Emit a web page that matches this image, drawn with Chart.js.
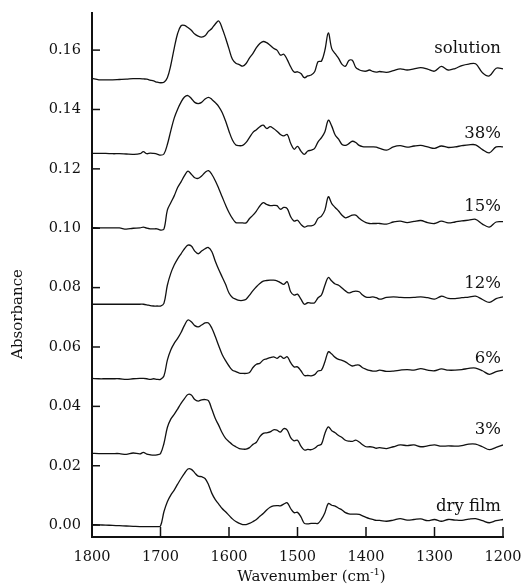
<!DOCTYPE html>
<html><head><meta charset="utf-8">
<script src="https://cdn.jsdelivr.net/npm/chart.js@4.4.1/dist/chart.umd.min.js"></script>
<style>html,body{margin:0;padding:0;background:#fff;}canvas{display:block;}</style>
</head><body>
<canvas id="c" width="523" height="587"></canvas>
<script>
const wavenumbers = [1800,1790,1780,1770,1760,1750,1740,1730,
1725,1720,1715,1710,1705,1700,1695,1690,1685,1680,1675,1670,1665,1660,1655,1650,1645,1640,1635,1630,1625,1620,1615,1610,1605,1600,1595,1590,1585,1580,1575,1570,1565,1560,1555,1550,1545,1540,1535,1530,1525,1520,1515,1510,1505,1500,1495,1490,1485,1480,1475,1470,1465,1460,1455,1450,1445,1440,1435,1430,1425,1420,1415,1410,1405,1400,1395,1390,1385,
1380,1370,1360,1350,1340,1330,1320,1310,1300,1290,1280,1270,1260,1250,1240,1230,1220,1210,1200];

const solution = [.1505,.1500,.1500,.1500,.1501,.1502,.1504,.1504,
.1503,.1502,.1499,.1496,.1492,.1490,.1492,.1507,.1549,.1606,
.1656,.1682,.1683,.1676,.1667,.1654,.1647,.1644,.1648,.1663,
.1673,.1688,.1698,.1674,.1641,.1604,.1569,.1556,.1551,.1546,
.1555,.1574,.1589,.1608,.1622,.1629,.1625,.1616,.1606,.1600,
.1583,.1586,.1568,.1544,.1526,.1527,.1521,.1507,.1513,.1516,
.1527,.1561,.1563,.1600,.1658,.1605,.1588,.1572,.1552,.1546,
.1565,.1566,.1542,.1534,.1530,.1529,.1533,.1528,.1526,
.1528,.1525,.1531,.1537,.1533,.1537,.1541,.1536,.1529,.1545,.1533,.1538,.1548,.1553,.1554,.1524,.1513,.1539,.1537];

const pct38 = [.1252,.1252,.1252,.1251,.1251,.1250,.1249,.1251,
.1258,.1251,.1253,.1252,.1250,.1246,.1250,.1282,.1328,.1371,
.1401,.1425,.1442,.1447,.1437,.1424,.1420,.1424,.1435,.1441,
.1434,.1423,.1410,.1390,.1361,.1327,.1297,.1280,.1278,.1279,
.1289,.1306,.1323,.1332,.1342,.1347,.1336,.1342,.1336,.1327,
.1316,.1311,.1316,.1286,.1266,.1276,.1260,.1249,.1260,.1263,
.1269,.1291,.1305,.1325,.1364,.1344,.1314,.1300,.1282,.1279,
.1285,.1293,.1289,.1279,.1275,.1274,.1274,.1274,.1273,
.1269,.1263,.1274,.1278,.1273,.1277,.1279,.1274,.1269,.1277,.1272,.1274,.1278,.1281,.1281,.1265,.1254,.1274,.1274];

const pct15 = [.1002,.1001,.1001,.1001,.1001,.0997,.1000,.1001,
.1004,.1000,.0998,.0998,.0998,.0994,.0997,.1061,.1086,.1109,
.1137,.1156,.1177,.1192,.1182,.1170,.1168,.1176,.1188,.1194,
.1181,.1160,.1134,.1106,.1078,.1053,.1033,.1019,.1018,.1018,
.1018,.1033,.1044,.1058,.1075,.1086,.1080,.1076,.1077,.1076,
.1064,.1070,.1066,.1039,.1024,.1027,.1013,.1004,.1008,.1008,
.1013,.1033,.1041,.1061,.1106,.1083,.1070,.1058,.1044,.1035,
.1039,.1044,.1044,.1034,.1025,.1019,.1016,.1016,.1016,
.1016,.1014,.1021,.1024,.1019,.1023,.1026,.1019,.1016,.1024,.1018,.1021,.1025,.1027,.1030,.1014,.1004,.1021,.1022];

const pct12 = [.0744,.0744,.0744,.0744,.0744,.0744,.0744,.0744,
.0744,.0742,.0739,.0738,.0738,.0738,.0747,.0808,.0848,.0876,
.0897,.0914,.0931,.0943,.0940,.0923,.0914,.0923,.0931,.0935,
.0921,.0889,.0861,.0836,.0811,.0782,.0767,.0761,.0757,.0757,
.0761,.0775,.0790,.0803,.0814,.0822,.0824,.0825,.0825,.0823,
.0817,.0811,.0820,.0786,.0775,.0778,.0761,.0744,.0749,.0748,
.0749,.0766,.0775,.0808,.0834,.0822,.0812,.0808,.0799,.0789,
.0782,.0786,.0788,.0786,.0775,.0768,.0767,.0769,.0766,
.0761,.0767,.0769,.0767,.0766,.0767,.0769,.0766,.0761,.0771,.0764,.0763,.0766,.0768,.0771,.0760,.0750,.0763,.0769];

const pct6 = [.0494,.0493,.0493,.0493,.0493,.0491,.0493,.0494,
.0494,.0493,.0491,.0493,.0491,.0491,.0502,.0556,.0590,.0612,
.0629,.0649,.0673,.0691,.0685,.0672,.0668,.0674,.0681,.0681,
.0663,.0635,.0604,.0575,.0554,.0536,.0522,.0517,.0512,.0511,
.0511,.0514,.0531,.0542,.0545,.0556,.0560,.0564,.0567,.0562,
.0569,.0562,.0567,.0547,.0533,.0533,.0520,.0504,.0504,.0503,
.0507,.0519,.0522,.0550,.0584,.0576,.0565,.0558,.0555,.0550,
.0542,.0536,.0539,.0539,.0530,.0525,.0521,.0519,.0519,
.0522,.0518,.0519,.0522,.0524,.0522,.0527,.0522,.0520,.0526,.0522,.0522,.0524,.0528,.0529,.0520,.0508,.0517,.0522];

const pct3 = [.0242,.0241,.0241,.0241,.0241,.0238,.0243,.0240,
.0245,.0239,.0237,.0236,.0237,.0241,.0275,.0329,.0357,.0373,
.0391,.0410,.0426,.0440,.0438,.0423,.0418,.0422,.0423,.0419,
.0390,.0359,.0336,.0311,.0292,.0281,.0271,.0264,.0258,.0256,
.0256,.0261,.0272,.0279,.0298,.0309,.0311,.0314,.0321,.0320,
.0313,.0325,.0320,.0295,.0284,.0286,.0266,.0253,.0255,.0254,
.0259,.0268,.0273,.0309,.0331,.0318,.0311,.0302,.0295,.0286,
.0283,.0282,.0286,.0280,.0271,.0264,.0264,.0263,.0259,
.0261,.0258,.0264,.0270,.0268,.0270,.0264,.0267,.0270,.0266,.0267,.0266,.0268,.0273,.0273,.0264,.0254,.0262,.0270];

const dryFilm = [.0002,.0001,.0000,-.0001,-.0002,-.0003,-.0004,-.0005,
-.0005,-.0005,-.0005,-.0005,-.0005,-.0003,.0045,.0079,.0101,.0118,
.0138,.0157,.0174,.0189,.0188,.0176,.0165,.0163,.0157,.0137,
.0107,.0086,.0071,.0056,.0045,.0033,.0021,.0012,.0006,.0002,
.0002,.0006,.0012,.0019,.0030,.0039,.0051,.0060,.0065,.0066,
.0065,.0071,.0075,.0056,.0042,.0043,.0028,.0006,.0004,.0006,
.0006,.0006,.0020,.0042,.0073,.0067,.0064,.0057,.0051,.0042,
.0038,.0037,.0037,.0036,.0031,.0026,.0022,.0019,.0016,
.0016,.0013,.0017,.0022,.0017,.0019,.0021,.0015,.0019,.0013,.0019,.0017,.0016,.0020,.0022,.0015,.0008,.0015,.0019];

const seriesNames = ['solution','38%','15%','12%','6%','3%','dry film'];
const labelAt = [0.1606,0.1320,0.1072,0.0814,0.0559,0.0320,0.0062];
const xTicks = [1800,1700,1600,1500,1400,1300,1200];
const yTicks = [0,0.02,0.04,0.06,0.08,0.10,0.12,0.14,0.16];

const allSeries = [solution,pct38,pct15,pct12,pct6,pct3,dryFilm];
const INK = '#111';
const FONT = '"DejaVu Serif", "Liberation Serif", serif';

const overlay = {
  id: 'overlay',
  afterDraw(chart) {
    const {ctx, chartArea, scales} = chart;
    const x = scales.x, y = scales.y;
    ctx.save();
    ctx.strokeStyle = INK; ctx.lineWidth = 1.5;
    yTicks.forEach(v => {
      const py = y.getPixelForValue(v);
      ctx.beginPath(); ctx.moveTo(chartArea.left, py); ctx.lineTo(chartArea.left + 8, py); ctx.stroke();
    });
    xTicks.forEach(v => {
      const px = x.getPixelForValue(v);
      ctx.beginPath(); ctx.moveTo(px, chartArea.bottom); ctx.lineTo(px, chartArea.bottom - 10); ctx.stroke();
    });
    ctx.fillStyle = INK;
    ctx.font = '16.5px ' + FONT;
    ctx.textAlign = 'right'; ctx.textBaseline = 'middle';
    seriesNames.forEach((n, i) => ctx.fillText(n, chartArea.right - 2, y.getPixelForValue(labelAt[i])));
    // x-axis title with superscript
    ctx.textAlign = 'left'; ctx.textBaseline = 'alphabetic';
    const f1 = '15px ' + FONT, f2 = '10px ' + FONT;
    const a = 'Wavenumber (cm', b = '-1', c = ')';
    ctx.font = f1; const wa = ctx.measureText(a).width, wc = ctx.measureText(c).width;
    ctx.font = f2; const wb = ctx.measureText(b).width;
    const total = wa + wb + wc;
    let tx = 311.5 - total / 2; const ty = 581;
    ctx.font = f1; ctx.fillText(a, tx, ty); tx += wa;
    ctx.font = f2; ctx.fillText(b, tx, ty - 6); tx += wb;
    ctx.font = f1; ctx.fillText(c, tx, ty);
    // y-axis title
    ctx.font = f1; ctx.textAlign = 'center'; ctx.textBaseline = 'middle';
    ctx.translate(18.5, 314); ctx.rotate(-Math.PI / 2);
    ctx.fillText('Absorbance', 0, 0);
    ctx.restore();
  }
};

function noPad(s) { s.paddingTop = 0; s.paddingBottom = 0; s.paddingLeft = 0; s.paddingRight = 0; }

new Chart(document.getElementById('c').getContext('2d'), {
  type: 'line',
  data: {
    datasets: allSeries.map((s, i) => ({
      label: seriesNames[i],
      data: wavenumbers.map((w, j) => ({x: w, y: s[j]})),
      borderColor: INK, borderWidth: 1.3, pointRadius: 0, tension: 0.35, fill: false
    }))
  },
  options: {
    responsive: false, animation: false, devicePixelRatio: 1,
    layout: {padding: {left: 0, right: 20, top: 13, bottom: 0}},
    plugins: {legend: {display: false}, tooltip: {enabled: false}},
    scales: {
      x: {
        type: 'linear', min: 1200, max: 1800, reverse: true,
        afterBuildTicks: s => { s.ticks = xTicks.map(v => ({value: v})); },
        afterFit: s => { s.height = 50; noPad(s); },
        grid: {display: false, drawTicks: false},
        border: {display: true, width: 2, color: INK},
        ticks: {padding: 12, color: INK, font: {family: FONT, size: 14.5}, maxRotation: 0, autoSkip: false, callback: v => String(v)}
      },
      y: {
        type: 'linear', min: -0.004, max: 0.1725,
        afterBuildTicks: s => { s.ticks = yTicks.map(v => ({value: v})); },
        afterFit: s => { s.width = 92; noPad(s); },
        grid: {display: false, drawTicks: false},
        border: {display: true, width: 2, color: INK},
        ticks: {padding: 11, color: INK, font: {family: FONT, size: 14.5}, callback: v => Number(v).toFixed(2)}
      }
    }
  },
  plugins: [overlay]
});
</script>
</body></html>
